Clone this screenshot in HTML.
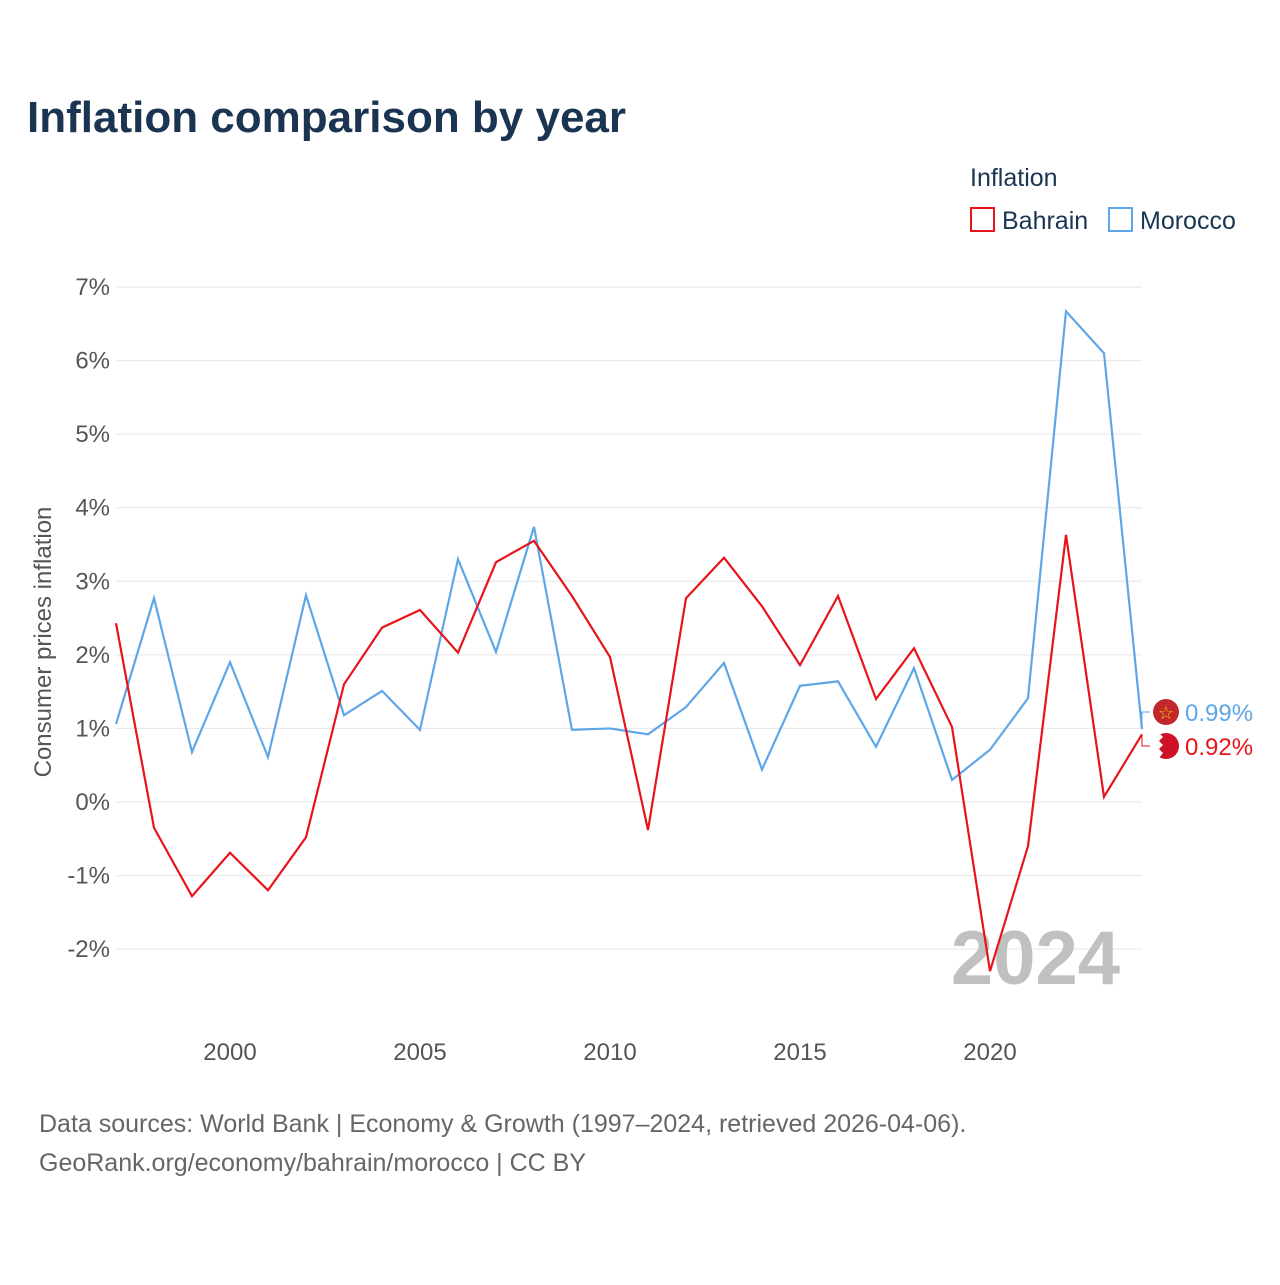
<!DOCTYPE html>
<html><head><meta charset="utf-8"><style>
body{margin:0;background:#fff;font-family:"Liberation Sans",sans-serif}
svg text{font-family:"Liberation Sans",sans-serif}
</style></head><body>
<svg id="chart" width="1280" height="1280" viewBox="0 0 1280 1280" xmlns="http://www.w3.org/2000/svg">
<text x="27" y="132" font-size="44" font-weight="bold" fill="#1a3452">Inflation comparison by year</text>
<text x="970" y="186" font-size="25" fill="#1a3452">Inflation</text>
<g><rect x="971" y="208" width="23" height="23" fill="none" stroke="#e8141b" stroke-width="2"/><text x="1002" y="229" font-size="25" fill="#1a3452">Bahrain</text></g>
<g><rect x="1109" y="208" width="23" height="23" fill="none" stroke="#5ea6e8" stroke-width="2"/><text x="1140" y="229" font-size="25" fill="#1a3452">Morocco</text></g>
<g id="grid"></g>
<g id="yticks"></g>
<g id="xticks"></g>
<text transform="translate(51,642) rotate(-90)" text-anchor="middle" font-size="24" fill="#555">Consumer prices inflation</text>
<text x="1120" y="984" text-anchor="end" font-size="76" font-weight="bold" fill="#c0c0c0">2024</text>
<g id="series"></g>
<text x="39" y="1132" font-size="25" fill="#666">Data sources: World Bank | Economy &amp; Growth (1997–2024, retrieved 2026-04-06).</text>
<text x="39" y="1171" font-size="25" fill="#666">GeoRank.org/economy/bahrain/morocco | CC BY</text>
</svg>
<script>
const years=[1997,1998,1999,2000,2001,2002,2003,2004,2005,2006,2007,2008,2009,2010,2011,2012,2013,2014,2015,2016,2017,2018,2019,2020,2021,2022,2023,2024];
const bahrain=[2.43,-0.35,-1.28,-0.69,-1.2,-0.48,1.6,2.37,2.61,2.03,3.26,3.55,2.8,1.97,-0.38,2.77,3.32,2.66,1.86,2.8,1.4,2.09,1.02,-2.3,-0.6,3.63,0.07,0.92];
const morocco=[1.06,2.77,0.68,1.9,0.61,2.81,1.18,1.51,0.98,3.3,2.04,3.74,0.98,1.0,0.92,1.29,1.89,0.44,1.58,1.64,0.75,1.82,0.3,0.71,1.41,6.67,6.1,0.99];
const yTicks=[-2,-1,0,1,2,3,4,5,6,7];
const xTicks=[2000,2005,2010,2015,2020];
const NS="http://www.w3.org/2000/svg";
const x=v=>116+(v-1997)*38, y=v=>802-v*73.57;
function mk(t,a,p){const e=document.createElementNS(NS,t);for(const k in a)e.setAttribute(k,a[k]);p.appendChild(e);return e;}
const grid=document.getElementById('grid'),yt=document.getElementById('yticks'),xt=document.getElementById('xticks'),se=document.getElementById('series');
yTicks.forEach(v=>{
 const l=mk('line',{x1:116,x2:1142,y1:y(v),y2:y(v),stroke:'#e6e6e6'},grid);
 
 
 const t=mk('text',{x:110,y:y(v)+8,'text-anchor':'end','font-size':24,fill:'#555'},yt);t.textContent=v+'%';
 
 
});
xTicks.forEach(v=>{
 const t=mk('text',{x:x(v),y:1060,'text-anchor':'middle','font-size':24,fill:'#555'},xt);t.textContent=v;
 
 
});
function line(d,c,name){
 const p=mk('polyline',{points:d.map((v,i)=>x(years[i])+','+y(v)).join(' '),fill:'none',stroke:c,'stroke-width':2.2},se);
 
 
}
line(morocco,'#5ea6e8','morocco-line');
line(bahrain,'#e8141b','bahrain-line');
const lm=morocco[morocco.length-1],lb=bahrain[bahrain.length-1];
const ym=712,yb=746;
const c1=mk('circle',{cx:1166,cy:ym,r:13,fill:'#c1272d'},se);


const s=mk('text',{x:1166,y:ym+7,'text-anchor':'middle','font-size':18,fill:'#f5d000'},se);s.textContent='☆';
const c2=mk('circle',{cx:1166,cy:yb,r:13,fill:'#ce1126'},se);


mk('path',{d:`M1153 ${yb-13} h6 l4 4 l-4 4 l4 4 l-4 4 l4 4 l-4 5 h-6 z`,fill:'#fff'},se);
mk('path',{d:`M1142 ${y(lm)} L1142 ${ym} L1150 ${ym}`,fill:'none',stroke:'#5ea6e8'},se);
mk('path',{d:`M1142 ${y(lb)} L1142 ${yb} L1150 ${yb}`,fill:'none',stroke:'#e8141b'},se);
const t1=mk('text',{x:1185,y:ym+9,'font-size':24,fill:'#5ea6e8'},se);t1.textContent=lm.toFixed(2)+'%';


const t2=mk('text',{x:1185,y:yb+9,'font-size':24,fill:'#e8141b'},se);t2.textContent=lb.toFixed(2)+'%';


</script>
</body></html>
